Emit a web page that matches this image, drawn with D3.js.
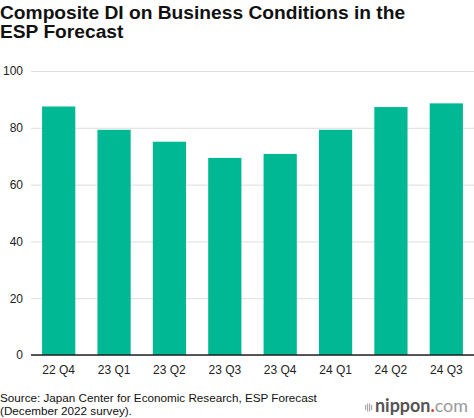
<!DOCTYPE html>
<html>
<head>
<meta charset="utf-8">
<script src="https://cdn.jsdelivr.net/npm/d3@7"></script>
<style>
html, body { margin: 0; padding: 0; background: #fff; }
svg { display: block; font-family: "Liberation Sans", Arial, Helvetica, sans-serif; }
</style>
</head>
<body>
<svg id="chart" width="474" height="418"></svg>
<script>
const categories = ["22 Q4", "23 Q1", "23 Q2", "23 Q3", "23 Q4", "24 Q1", "24 Q2", "24 Q3"];
const values = [87.5, 79.3, 75.1, 69.4, 70.8, 79.3, 87.3, 88.6];
const yTicks = [0, 20, 40, 60, 80, 100];
const titleLines = ["Composite DI on Business Conditions in the", "ESP Forecast"];
const sourceLines = ["Source: Japan Center for Economic Research, ESP Forecast", "(December 2022 survey)."];

const svg = d3.select("#chart");
const W = 474;

const x = d3.scaleBand().domain(categories).range([31, 474]).paddingInner(0.4).paddingOuter(0.2);
const y = d3.scaleLinear().domain([0, 100]).range([355, 71]);

// title
svg.append("g").selectAll("text").data(titleLines).join("text")
  .attr("x", 0).attr("y", (d, i) => 19 + i * 19)
  .attr("font-size", 19.2).attr("font-weight", "bold").attr("fill", "#111")
  .text(d => d);

// gridlines
const yAxis = d3.axisLeft(y).tickValues(yTicks).tickSize(-(W - 31)).tickPadding(8);
const gy = svg.append("g").attr("transform", "translate(31,0)").call(yAxis);
gy.select(".domain").remove();
gy.selectAll(".tick line").attr("stroke", "#dedede").attr("stroke-width", 1);
gy.selectAll(".tick text").attr("font-size", 12).attr("fill", "#222")
  .attr("font-family", "Liberation Sans, Arial, sans-serif").attr("x", -8);

// bars
svg.append("g").selectAll("rect").data(values).join("rect")
  .attr("x", (d, i) => x(categories[i]))
  .attr("width", x.bandwidth())
  .attr("y", d => y(d))
  .attr("height", d => y(0) - y(d))
  .attr("fill", "#00b894");

// x axis
const xAxis = d3.axisBottom(x).tickSize(0).tickPadding(10);
const gx = svg.append("g").attr("transform", `translate(0,${y(0)})`).call(xAxis);
gx.select(".domain").remove();
gx.selectAll(".tick text").attr("font-size", 12).attr("fill", "#222")
  .attr("font-family", "Liberation Sans, Arial, sans-serif");
svg.append("line").attr("x1", 31).attr("x2", W).attr("y1", y(0)).attr("y2", y(0))
  .attr("stroke", "#222").attr("stroke-width", 1.5);

// source
svg.append("g").selectAll("text").data(sourceLines).join("text")
  .attr("x", 0).attr("y", (d, i) => 402 + i * 12.5)
  .attr("font-size", 11.7).attr("fill", "#111")
  .text(d => d);

// logo
const logo = svg.append("g");
[0, 2, 4, 6].forEach((dx, i) => {
  const h = [5, 8, 8, 5][i];
  logo.append("rect").attr("x", 365 + dx).attr("y", 407.5 - h / 2).attr("width", 1.2).attr("height", h).attr("fill", "#aaa");
});
const lt = logo.append("text").attr("x", 375).attr("y", 412).attr("font-size", 18)
  .attr("font-family", "Lato, 'Open Sans', sans-serif")
  .attr("textLength", 93).attr("lengthAdjust", "spacingAndGlyphs");
lt.append("tspan").attr("font-weight", "bold").attr("fill", "#555").text("nippon");
lt.append("tspan").attr("fill", "#d33").attr("font-weight", "bold").text(".");
lt.append("tspan").attr("fill", "#999").text("com");
</script>
</body>
</html>
